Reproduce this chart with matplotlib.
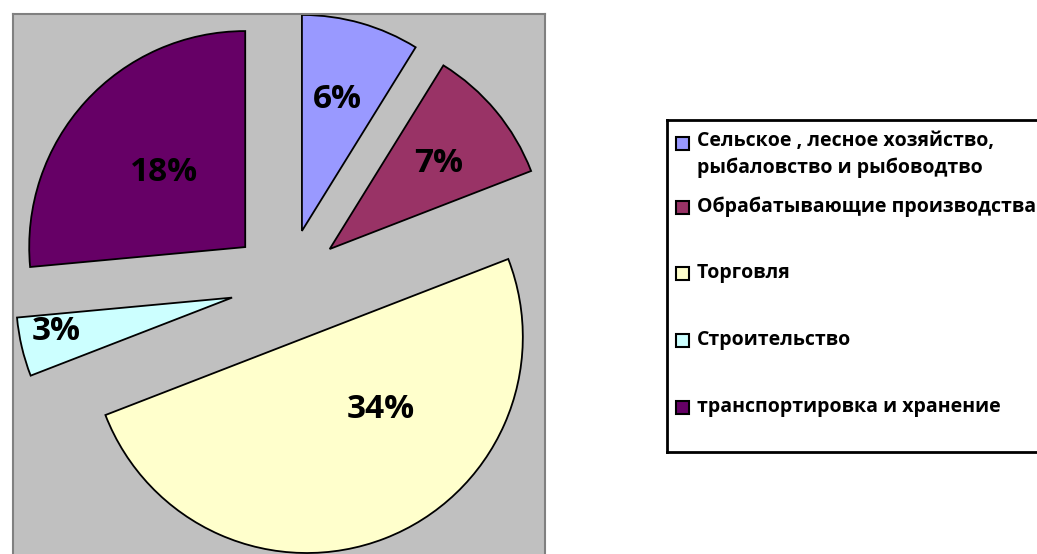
import numpy as np
import matplotlib.pyplot as plt
from matplotlib.patches import Rectangle

plt.rcParams['font.family'] = ['Open Sans', 'DejaVu Sans']

# data
categories = ['Сельское , лесное хозяйство,\nрыбаловство и рыбоводтво',
              'Обрабатывающие производства',
              'Торговля',
              'Строительство',
              'транспортировка и хранение']
shares = [6, 7, 34, 3, 18]
pct_labels = ['6%', '7%', '34%', '3%', '18%']

colors = ['#9999FF', '#993366', '#FFFFCC', '#CCFFFF', '#660066']

W, H = 1037, 554
fig = plt.figure(figsize=(W / 100, H / 100), dpi=100)
fig.patch.set_facecolor('white')

# plot area, 1 data unit = 1 pixel
x0, x1, ytop = 13, 545, 14
ax = fig.add_axes([x0 / W, 0, (x1 - x0) / W, (H - ytop) / H])
ax.set_facecolor('#C0C0C0')

center = (286.6, H - 284.8)
radius = 216
expl = 56  # pie() offsets wedges in data units

wedges, _ = ax.pie(shares, colors=colors, startangle=90, counterclock=False,
                   radius=radius, center=center, explode=[expl] * len(shares),
                   frame=True, wedgeprops=dict(edgecolor='black', linewidth=1.3))
ax.set_xlim(x0, x1)
ax.set_ylim(0, H - ytop)
ax.set_aspect('auto')
ax.set_xticks([])
ax.set_yticks([])
for sp in ax.spines.values():
    sp.set_color('#808080')
    sp.set_linewidth(1.5)
ax.spines['bottom'].set_visible(False)

# label placement: (angle deg, fraction of radius) from each slice's tip
label_place = [(75, 0.63), (38, 0.64), (-44.6, 0.48), (-169, 0.83), (137.5, 0.51)]
for w, txt, (ang, fr) in zip(wedges, pct_labels, label_place):
    cx, cy = w.center
    a = np.deg2rad(ang)
    ax.text(cx + fr * radius * np.cos(a), cy + fr * radius * np.sin(a), txt,
            ha='center', va='center', fontsize=24, fontweight='bold', color='black')

# legend
lx0, ly0, ly1 = 667, 120, 452
lax = fig.add_axes([lx0 / W, (H - ly1) / H, (W - lx0 + 5) / W, (ly1 - ly0) / H])
lax.set_xlim(lx0, W + 5)
lax.set_ylim(H - ly1, H - ly0)
lax.set_xticks([])
lax.set_yticks([])
for sp in lax.spines.values():
    sp.set_color('black')
    sp.set_linewidth(2)
lax.spines['right'].set_visible(False)

entry_y = [143, 207, 273, 340, 407]
for c, lab, yy in zip(colors, categories, entry_y):
    y = H - yy
    lax.add_patch(Rectangle((676, y - 6.5), 13, 13, facecolor=c, edgecolor='black', linewidth=1.5))
    if '\n' in lab:
        lax.text(697, y + 12, lab, ha='left', va='top', fontsize=14,
                 fontweight='bold', linespacing=1.4)
    else:
        lax.text(697, y, lab, ha='left', va='center', fontsize=14, fontweight='bold')

fig.savefig('out.png', dpi=100)
